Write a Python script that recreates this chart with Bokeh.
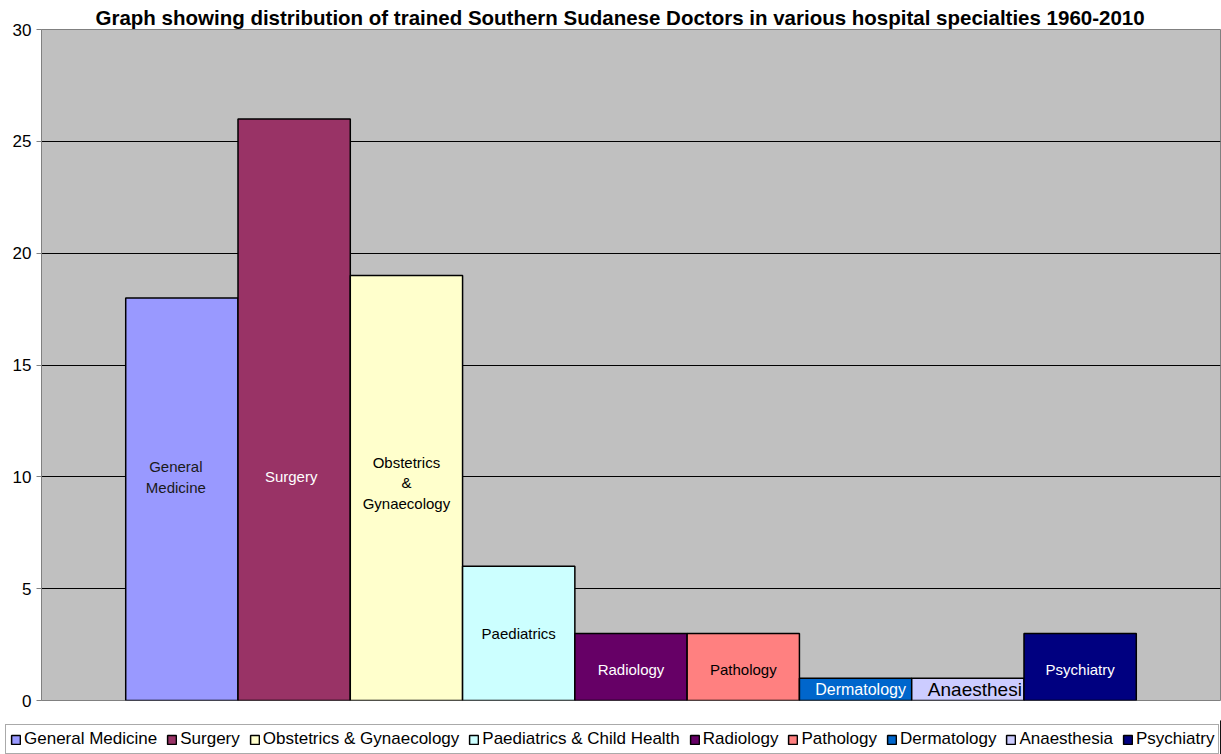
from bokeh.plotting import figure
from bokeh.layouts import column
from bokeh.models import Range1d, Legend, LegendItem, FixedTicker, ColumnDataSource
from bokeh.core.properties import value
from bokeh.embed import file_html
from bokeh.resources import INLINE

specialties = ["General Medicine", "Surgery", "Obstetrics & Gynaecology",
               "Paediatrics & Child Health", "Radiology", "Pathology",
               "Dermatology", "Anaesthesia", "Psychiatry"]
doctors = [18, 26, 19, 6, 3, 3, 1, 1, 3]
bar_labels = ["General\nMedicine", "Surgery", "Obstetrics\n&\nGynaecology", "Paediatrics",
              "Radiology", "Pathology", "Dermatology", "Anaesthesi", "Psychiatry"]
colors = ["#9999FF", "#993366", "#FFFFCC", "#CCFFFF", "#660066",
          "#FF8080", "#0066CC", "#CCCCFF", "#000080"]
label_colors = ["#1a1a1a", "white", "black", "black", "white",
                "black", "white", "black", "white"]
y_ticks = [0, 5, 10, 15, 20, 25, 30]

FONT = "Liberation Sans"

p = figure(width=1221, height=720, output_backend="svg", toolbar_location=None,
           x_range=Range1d(-0.75, 9.75), y_range=Range1d(0, 30),
           min_border_left=41, min_border_right=1, min_border_top=29, min_border_bottom=20)
p.frame_align = False

p.title.text = "Graph showing distribution of trained Southern Sudanese Doctors in various hospital specialties 1960-2010"
p.title.text_font = FONT
p.title.text_font_size = "20.5px"
p.title.text_font_style = "bold"
p.title.text_color = "black"
p.title.align = "left"
p.title.offset = 54
p.title.standoff = 2

p.background_fill_color = "#C0C0C0"
p.border_fill_color = "white"
p.outline_line_color = "#808080"
p.outline_line_width = 1

p.xaxis.visible = False
p.xgrid.visible = False
p.ygrid.grid_line_color = "black"
p.ygrid.grid_line_width = 1
p.yaxis.ticker = FixedTicker(ticks=y_ticks)
p.yaxis.axis_line_color = "#808080"
p.yaxis.major_tick_line_color = "#808080"
p.yaxis.major_tick_in = 0
p.yaxis.major_tick_out = 5
p.yaxis.minor_tick_line_color = None
p.yaxis.major_label_text_font = FONT
p.yaxis.major_label_text_font_size = "17px"
p.yaxis.major_label_text_color = "black"
p.yaxis.major_label_standoff = 5

for i, (v, c) in enumerate(zip(doctors, colors)):
    p.vbar(x=[i + 0.5], top=[v], bottom=0, width=1, fill_color=c,
           line_color="black", line_width=1.5)

label_y = [v / 2 if v < 10 else 10 for v in doctors]
src = ColumnDataSource(dict(x=[i + 0.5 for i in range(len(doctors))], y=label_y,
                            t=bar_labels, c=label_colors,
                            s=["15px"] * 6 + ["16px", "19px", "15px"],
                            dx=[-6, -3, 0, 0, 0, 0, 5, 7, 0],
                            dy=[0, 0, 6, 0, 3, 3, 0, 0, 3]))
p.text(x="x", y="y", text="t", text_color="c", source=src,
       text_font=value(FONT), text_font_size="s", text_align="center",
       text_baseline="middle", text_line_height=1.2, x_offset="dx", y_offset="dy")

# legend strip below the chart
lg = figure(width=1221, height=34, output_backend="svg", toolbar_location=None,
            x_range=Range1d(0, 1), y_range=Range1d(0, 1),
            min_border_left=0, min_border_right=0, min_border_top=0, min_border_bottom=0)
lg.frame_align = False
lg.axis.visible = False
lg.grid.visible = False
lg.outline_line_color = None
lg.background_fill_color = "white"
lg.border_fill_color = "white"
items = []
for name, c in zip(specialties, colors):
    r = lg.vbar(x=[5], top=[1], bottom=0, width=0.1, fill_color=c, line_color="black",
                line_width=1.5)
    items.append(LegendItem(label=name, renderers=[r]))

legend = Legend(items=items, orientation="horizontal", location=(5, 0))
legend.label_text_font = FONT
legend.label_text_font_size = "17px"
legend.label_text_color = "black"
legend.glyph_width = 11
legend.glyph_height = 11
legend.label_standoff = 3
legend.spacing = 9
legend.padding = 4
legend.margin = 0
legend.border_line_color = "#555555"
legend.border_line_width = 1
legend.background_fill_color = "white"
legend.label_height = 18
lg.add_layout(legend, "center")

layout = column(p, lg, spacing=0)
open("out.html", "w").write(file_html(layout, INLINE))
